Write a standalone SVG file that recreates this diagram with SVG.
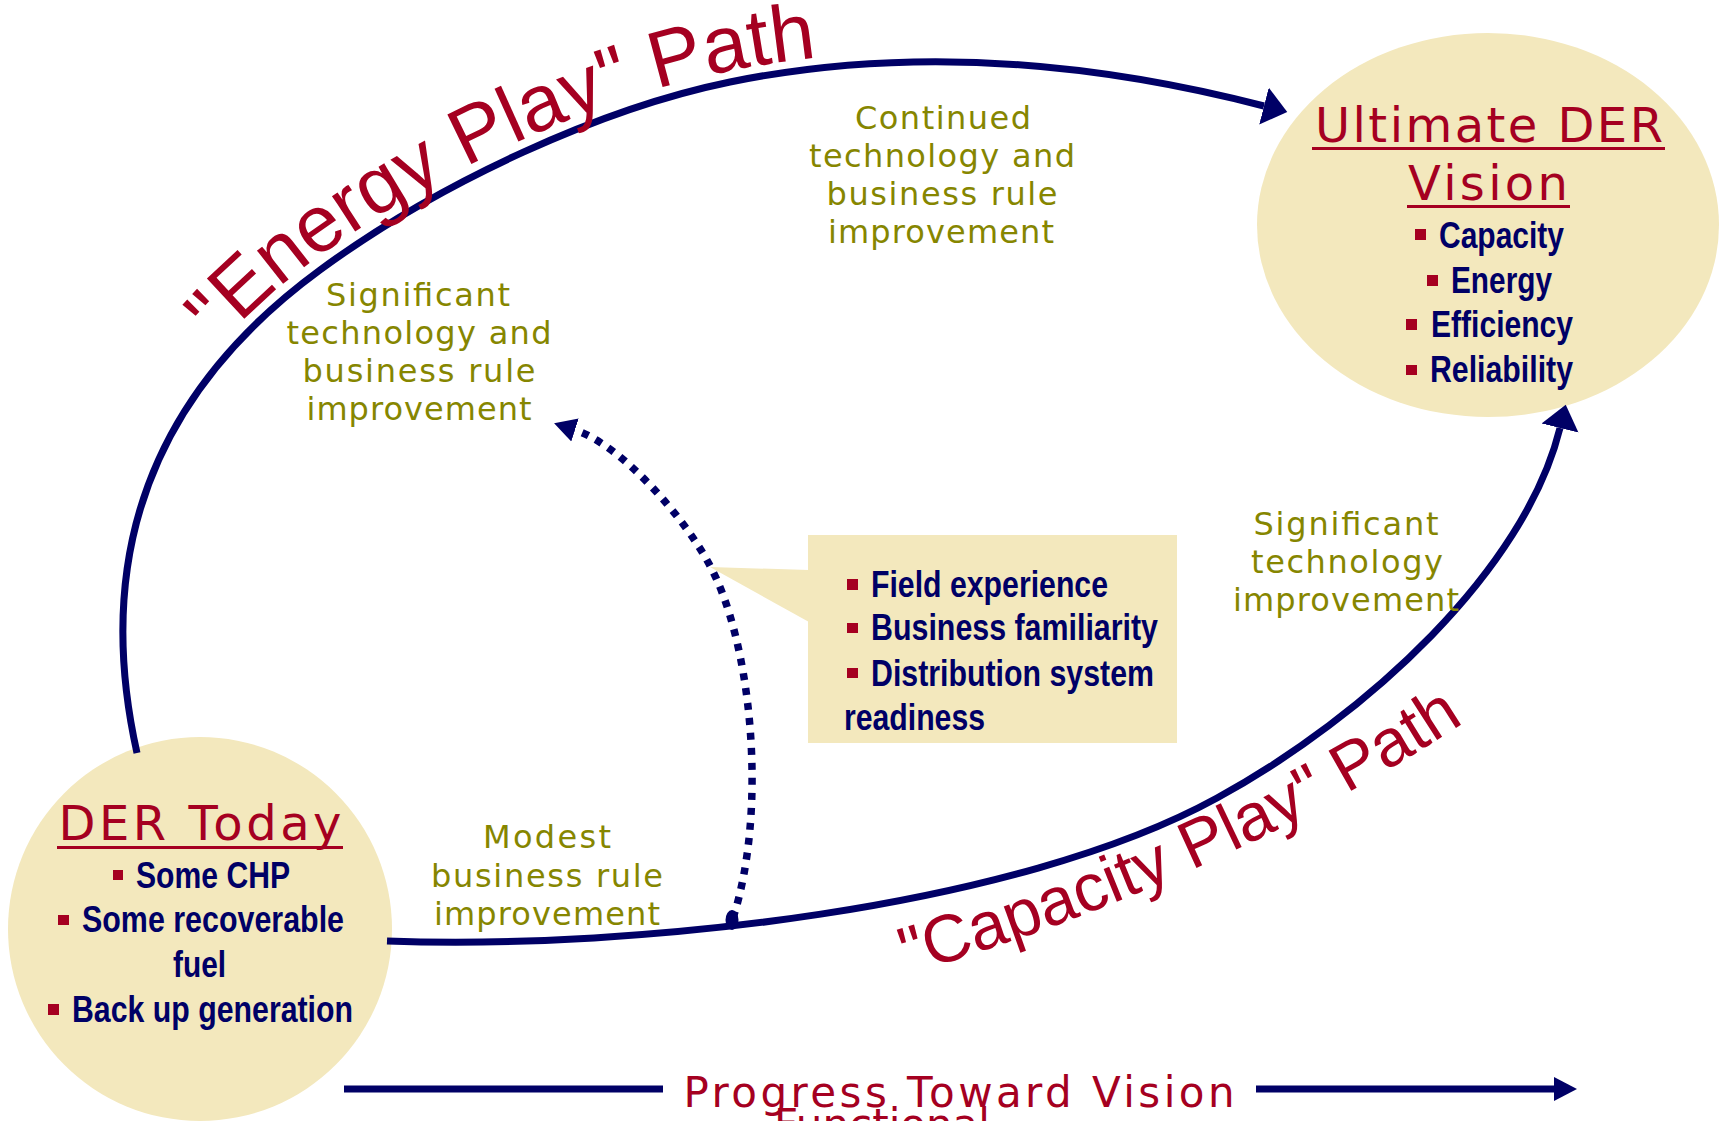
<svg xmlns="http://www.w3.org/2000/svg" xmlns:xlink="http://www.w3.org/1999/xlink" width="1725" height="1121" viewBox="0 0 1725 1121">
<style>
.fillb{fill:#F3E8BD;}
.hd{font-family:"DejaVu Sans",Verdana,sans-serif;font-size:48px;fill:#A50021;text-anchor:middle;}
.nv{font-family:"Liberation Sans Narrow","Liberation Sans",Arial,sans-serif;font-weight:bold;font-size:36px;fill:#000066;}
.bl{fill:#A50021;}
.ul{fill:#A50021;}
.ol{font-family:"DejaVu Sans",Verdana,sans-serif;font-size:32px;fill:#868600;text-anchor:middle;}
.rd{font-family:"Liberation Sans",Arial,sans-serif;fill:#A50021;}
.prog{font-family:"DejaVu Sans",Verdana,sans-serif;font-size:42px;fill:#A50021;text-anchor:middle;}
.ln{fill:none;stroke:#000066;stroke-width:7;}
.dot{fill:none;stroke:#000066;stroke-width:7.5;stroke-dasharray:7 8;}
</style>
<defs>
<marker id="arrL" markerUnits="userSpaceOnUse" markerWidth="30" markerHeight="42" viewBox="0 -21 30 42" refX="0" refY="0" orient="auto"><path d="M0,-19 L24,0 L0,19 z" fill="#000066"/></marker>
<marker id="arrS" markerUnits="userSpaceOnUse" markerWidth="26" markerHeight="28" viewBox="0 -14 26 28" refX="0" refY="0" orient="auto"><path d="M0,-12 L22,0 L0,12 z" fill="#000066"/></marker>
<path id="energyArc" d="M137,753 C85,520 182.8,370.5 320,270 C441,181 603,108 730,82 C906,46 1086,60 1264,106"/>
<path id="capBase" d="M890,980 Q1230,880 1480,712"/>
</defs>

<g id="node-der-today">
<circle cx="200" cy="929" r="192" class="fillb"/>
<text class="hd" x="200" y="840" textLength="283" lengthAdjust="spacing">DER Today</text>
<rect class="ul" x="57" y="846" width="286" height="3"/>
<rect class="bl" x="113" y="870" width="10" height="10"/>
<text class="nv" x="136" y="888" textLength="154" lengthAdjust="spacingAndGlyphs">Some CHP</text>
<rect class="bl" x="58" y="915" width="11" height="10"/>
<text class="nv" x="82" y="932" textLength="262" lengthAdjust="spacingAndGlyphs">Some recoverable</text>
<text class="nv" x="173" y="977" textLength="53" lengthAdjust="spacingAndGlyphs">fuel</text>
<rect class="bl" x="48" y="1004" width="11" height="11"/>
<text class="nv" x="72" y="1022" textLength="281" lengthAdjust="spacingAndGlyphs">Back up generation</text>
</g>

<g id="node-ultimate">
<ellipse cx="1488" cy="225" rx="231" ry="192" class="fillb"/>
<text class="hd" x="1489" y="142" textLength="348" lengthAdjust="spacing">Ultimate DER</text>
<rect class="ul" x="1312" y="147" width="353" height="3"/>
<text class="hd" x="1488" y="200" textLength="160" lengthAdjust="spacing">Vision</text>
<rect class="ul" x="1407" y="205" width="163" height="3"/>
<rect class="bl" x="1415" y="229" width="11" height="11"/>
<text class="nv" x="1439" y="248" textLength="125" lengthAdjust="spacingAndGlyphs">Capacity</text>
<rect class="bl" x="1427" y="275" width="11" height="11"/>
<text class="nv" x="1451" y="293" textLength="101" lengthAdjust="spacingAndGlyphs">Energy</text>
<rect class="bl" x="1406" y="319" width="11" height="11"/>
<text class="nv" x="1431" y="337" textLength="142" lengthAdjust="spacingAndGlyphs">Efficiency</text>
<rect class="bl" x="1406" y="365" width="11" height="10"/>
<text class="nv" x="1430" y="382" textLength="143" lengthAdjust="spacingAndGlyphs">Reliability</text>
</g>

<g id="node-callout">
<polygon class="fillb" points="710,567 809,570 809,622"/>
<rect class="fillb" x="808" y="535" width="369" height="208"/>
<rect class="bl" x="847" y="579" width="11" height="11"/>
<text class="nv" x="871" y="597" textLength="237" lengthAdjust="spacingAndGlyphs">Field experience</text>
<rect class="bl" x="847" y="623" width="11" height="10"/>
<text class="nv" x="871" y="640" textLength="287" lengthAdjust="spacingAndGlyphs">Business familiarity</text>
<rect class="bl" x="847" y="668" width="11" height="10"/>
<text class="nv" x="871" y="686" textLength="283" lengthAdjust="spacingAndGlyphs">Distribution system</text>
<text class="nv" x="844" y="730" textLength="141" lengthAdjust="spacingAndGlyphs">readiness</text>
</g>

<g id="connectors">
<use xlink:href="#energyArc" class="ln" marker-end="url(#arrL)"/>
<path class="ln" d="M387,941 C637,950 1017,908 1217,798 C1367,716 1525,570 1560,428" marker-end="url(#arrL)"/>
<path class="dot" d="M733,918 C768,810 752,640 708,562 C684,518 622.5,445.5 575,430" marker-end="url(#arrS)"/>
<ellipse cx="732" cy="920" rx="6.5" ry="10" fill="#000066"/>
<line x1="344" y1="1089" x2="663" y2="1089" stroke="#000066" stroke-width="7"/>
<line x1="1256" y1="1089" x2="1556" y2="1089" stroke="#000066" stroke-width="7"/>
<polygon points="1554,1077 1577,1089 1554,1101" fill="#000066"/>
</g>

<g id="labels">
<text class="rd" font-size="80" transform="translate(-6,-10)"><textPath xlink:href="#energyArc" startOffset="425">"Energy Play" Path</textPath></text>
<text class="rd" font-size="67"><textPath xlink:href="#capBase" startOffset="18">"Capacity Play" Path</textPath></text>
<text class="ol" x="943" y="129" textLength="176" lengthAdjust="spacing">Continued</text>
<text class="ol" x="942" y="167" textLength="266" lengthAdjust="spacing">technology and</text>
<text class="ol" x="942" y="205" textLength="231" lengthAdjust="spacing">business rule</text>
<text class="ol" x="941" y="243" textLength="226" lengthAdjust="spacing">improvement</text>
<text class="ol" x="418" y="306" textLength="184" lengthAdjust="spacing">Significant</text>
<text class="ol" x="419" y="344" textLength="265" lengthAdjust="spacing">technology and</text>
<text class="ol" x="419" y="382" textLength="233" lengthAdjust="spacing">business rule</text>
<text class="ol" x="419" y="420" textLength="225" lengthAdjust="spacing">improvement</text>
<text class="ol" x="1346" y="535" textLength="185" lengthAdjust="spacing">Significant</text>
<text class="ol" x="1347" y="573" textLength="192" lengthAdjust="spacing">technology</text>
<text class="ol" x="1346" y="611" textLength="226" lengthAdjust="spacing">improvement</text>
<text class="ol" x="547" y="848" textLength="128" lengthAdjust="spacing">Modest</text>
<text class="ol" x="547" y="887" textLength="232" lengthAdjust="spacing">business rule</text>
<text class="ol" x="547" y="925" textLength="226" lengthAdjust="spacing">improvement</text>
<text class="prog" x="959" y="1107" textLength="551" lengthAdjust="spacing">Progress Toward Vision</text>
<text class="prog" x="882" y="1139" font-size="37">Functional</text>
</g>
</svg>
